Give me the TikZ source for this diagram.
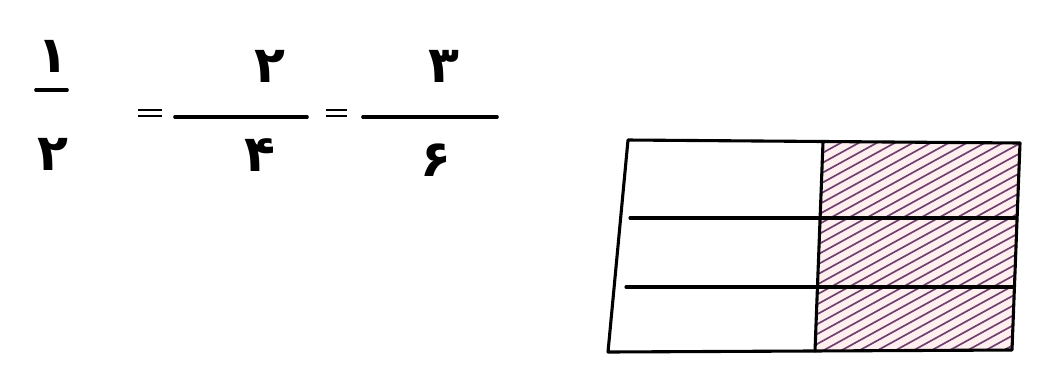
\documentclass[tikz,border=0pt]{standalone}
\usepackage{fontspec}
\newfontfamily\arabicfont[Script=Arabic]{DejaVu Sans}
\TeXXeTstate=1
\usetikzlibrary{positioning}

\begin{document}
\begin{tikzpicture}[
  x=0.025cm, y=-0.025cm,
  digit/.style={inner sep=0pt, font=\arabicfont\bfseries\fontsize{36}{36}\selectfont},
  pen/.style={line width=2.2pt, line cap=round, line join=round},
  bar/.style={line width=2.6pt, line cap=round},
  hatch/.style={line width=1.2pt, draw=violet!50!black!75}
]
  \useasboundingbox (0,0) rectangle (1038,378);

  % fractions
  \node[digit] (n1) at (53,56)  {\beginR ۱\endR};
  \node[digit] (d1) at (53,154) {\beginR ۲\endR};
  \draw[bar] (36,90) -- (67,90);

  \draw[line width=2pt] (138,110) -- (162,110) (138,116) -- (162,116);

  \node[digit] (n2) at (270,66)  {\beginR ۲\endR};
  \node[digit] (d2) at (260,155) {\beginR ۴\endR};
  \draw[bar] (175,117) -- (307,117);

  \draw[line width=2pt] (326,110) -- (347,110) (326,116) -- (347,116);

  \node[digit] (n3) at (444,66)  {\beginR ۳\endR};
  \node[digit] (d3) at (436,160) {\beginR ۶\endR};
  \draw[bar] (363,117) -- (497,117);

  % shaded half
  \begin{scope}
    \clip (823,142) -- (1020,143) -- (1012,350) -- (815,351) -- cycle;
    \fill[pink!25] (800,130) rectangle (1030,360);
    \foreach \s in {410,428,...,1040}
      \draw[hatch] (\s,360) -- ++(420,-231);
  \end{scope}

  % grid
  \draw[pen] (628,140) -- (1020,143) -- (1012,350) -- (608,352) -- cycle;
  \draw[pen] (823,142) -- (815,351);
  \draw[pen] (630,218) -- (1016,218);
  \draw[pen] (626,287) -- (1013,287);
\end{tikzpicture}
\end{document}
